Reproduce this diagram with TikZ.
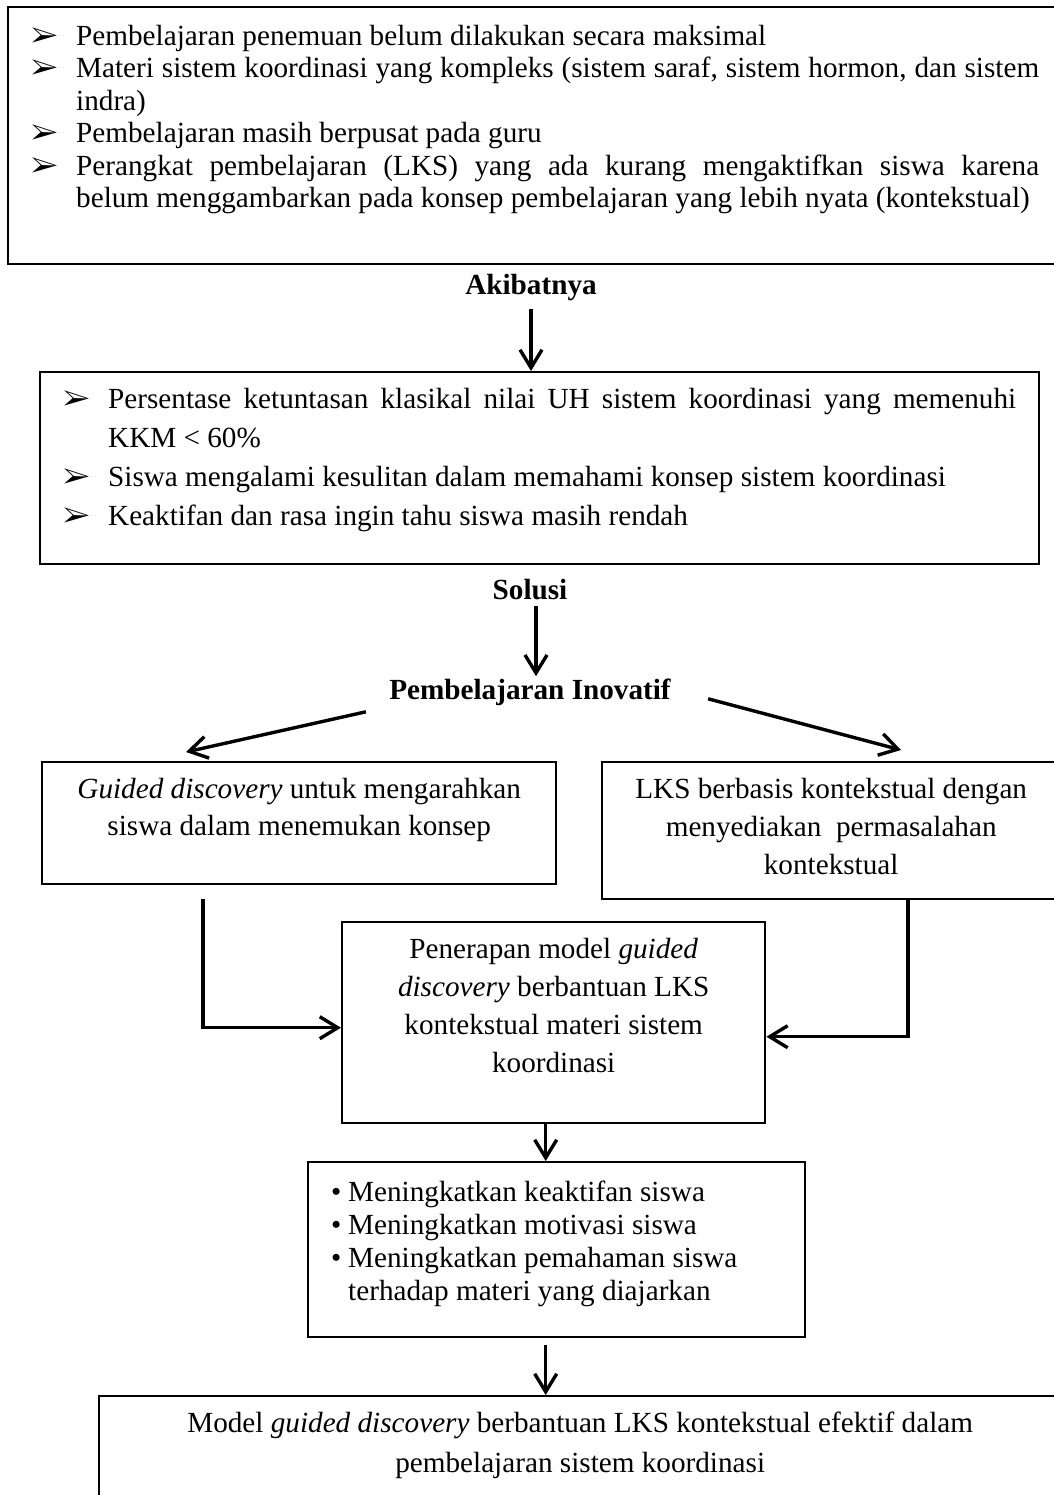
\documentclass[tikz,border=0pt]{standalone}
\usepackage{fontspec}
\setmainfont{Liberation Serif}
\usepackage{pifont}
\usepackage{tikz}
\usetikzlibrary{positioning,arrows.meta}

\newcommand{\arrowitem}[1]{\par\hangindent=22.5pt\hangafter=1\noindent\makebox[22.5pt][l]{\ding{226}}#1}
\newcommand{\dotitem}[1]{\par\hangindent=8.5pt\hangafter=1\noindent\makebox[8.5pt][l]{\textbullet}#1}
\newcommand{\panel}[4]{\parbox[c][#1][t]{#2}{\fontsize{14.6pt}{#3}\selectfont\parskip=0pt #4}}

\begin{document}
\begin{tikzpicture}[x=0.5pt,y=-0.5pt,font={\fontsize{14.6pt}{17pt}\selectfont},
                    box/.style={draw,line width=1.2pt,anchor=north west,inner xsep=5pt,inner ysep=8pt},
                    heading/.style={inner sep=0pt,font={\fontsize{14.6pt}{17pt}\selectfont\bfseries}},
                    arr/.style={line width=1.7pt,-{Straight Barb[length=9pt,width=11pt]}}]
  \useasboundingbox (0,0) rectangle (1054,1495);
  \node[box,inner xsep=11.5pt,inner ysep=9pt] (masalah) at (7,6) {\panel{110.5pt}{504pt}{16.2pt}{%
    \arrowitem{Pembelajaran penemuan belum dilakukan secara maksimal}
    \arrowitem{Materi sistem koordinasi yang kompleks (sistem saraf, sistem hormon, dan sistem\linebreak indra)}
    \arrowitem{Pembelajaran masih berpusat pada guru}
    \arrowitem{Perangkat pembelajaran (LKS) yang ada kurang mengaktifkan siswa karena\linebreak belum menggambarkan pada konsep pembelajaran yang lebih nyata (kontekstual)}}};
  \node[heading] (akibatnya) at (531,288) {Akibatnya};
  \node[box,inner xsep=11.5pt] (akibat) at (39,371) {\panel{80pt}{476.5pt}{19.5pt}{%
    \arrowitem{Persentase ketuntasan klasikal nilai UH sistem koordinasi yang memenuhi\linebreak KKM < 60\%}
    \arrowitem{Siswa mengalami kesulitan dalam memahami konsep sistem koordinasi}
    \arrowitem{Keaktifan dan rasa ingin tahu siswa masih rendah}}};
  \node[heading] (solusi) at (530,590) {Solusi};
  \node[heading] (inovatif) at (530,692) {Pembelajaran Inovatif};
  \node[box,inner xsep=2pt] (guided) at (41,761) {\panel{45pt}{253pt}{18.5pt}{\centering
    \textit{Guided discovery} untuk mengarahkan\\ siswa dalam menemukan konsep}};
  \node[box] (lks) at (601,761) {\panel{52.5pt}{219pt}{19pt}{\centering
    LKS berbasis kontekstual dengan\\ menyediakan\ \ permasalahan\\ kontekstual}};
  \node[box] (terap) at (341,921) {\panel{84.5pt}{201.5pt}{19pt}{\centering
    Penerapan model \textit{guided}\\ \textit{discovery} berbantuan LKS\\ kontekstual materi sistem\\ koordinasi}};
  \node[box,inner xsep=11.5pt,inner ysep=9.5pt] (hasil) at (307,1161) {\panel{68.5pt}{225.5pt}{16.5pt}{\raggedright
    \dotitem{Meningkatkan keaktifan siswa}
    \dotitem{Meningkatkan motivasi siswa}
    \dotitem{Meningkatkan pemahaman siswa\newline terhadap materi yang diajarkan}}};
  \node[box] (akhir) at (98,1395) {\panel{49pt}{471pt}{20pt}{\centering
    Model \textit{guided discovery} berbantuan LKS kontekstual efektif dalam\\ pembelajaran sistem koordinasi}};
  \coordinate (ka) at ([shift={(-23,6)}]inovatif.south west);
  \coordinate (kb) at ([shift={(145,-9)}]guided.north west);
  \coordinate (na) at ([shift={(37,-7)}]inovatif.south east);
  \coordinate (nb) at ([shift={(300,-11)}]lks.north west);
  \coordinate (gx) at ([shift={(162,14)}]guided.south west);
  \coordinate (lx) at ([shift={(307,0)}]lks.south west);
  \coordinate (tx) at ([shift={(-8,0)}]terap.south);
  \coordinate (hx) at ([shift={(-11,7)}]hasil.south);
  \draw[arr] ([shift={(0,7)}]akibatnya.south) -- (akibatnya.south |- akibat.north);
  \draw[arr] ([shift={(6,5)}]solusi.south) -- ([shift={(6,-2)}]inovatif.north);
  \draw[arr] (ka) -- (kb);
  \draw[arr] (na) -- (nb);
  \draw[arr] (gx) |- ([shift={(0,5)}]terap.west);
  \draw[arr] (lx) |- ([shift={(0,14)}]terap.east);
  \draw[arr] (tx) -- (tx |- hasil.north);
  \draw[arr] (hx) -- (hx |- akhir.north);
\end{tikzpicture}
\end{document}
